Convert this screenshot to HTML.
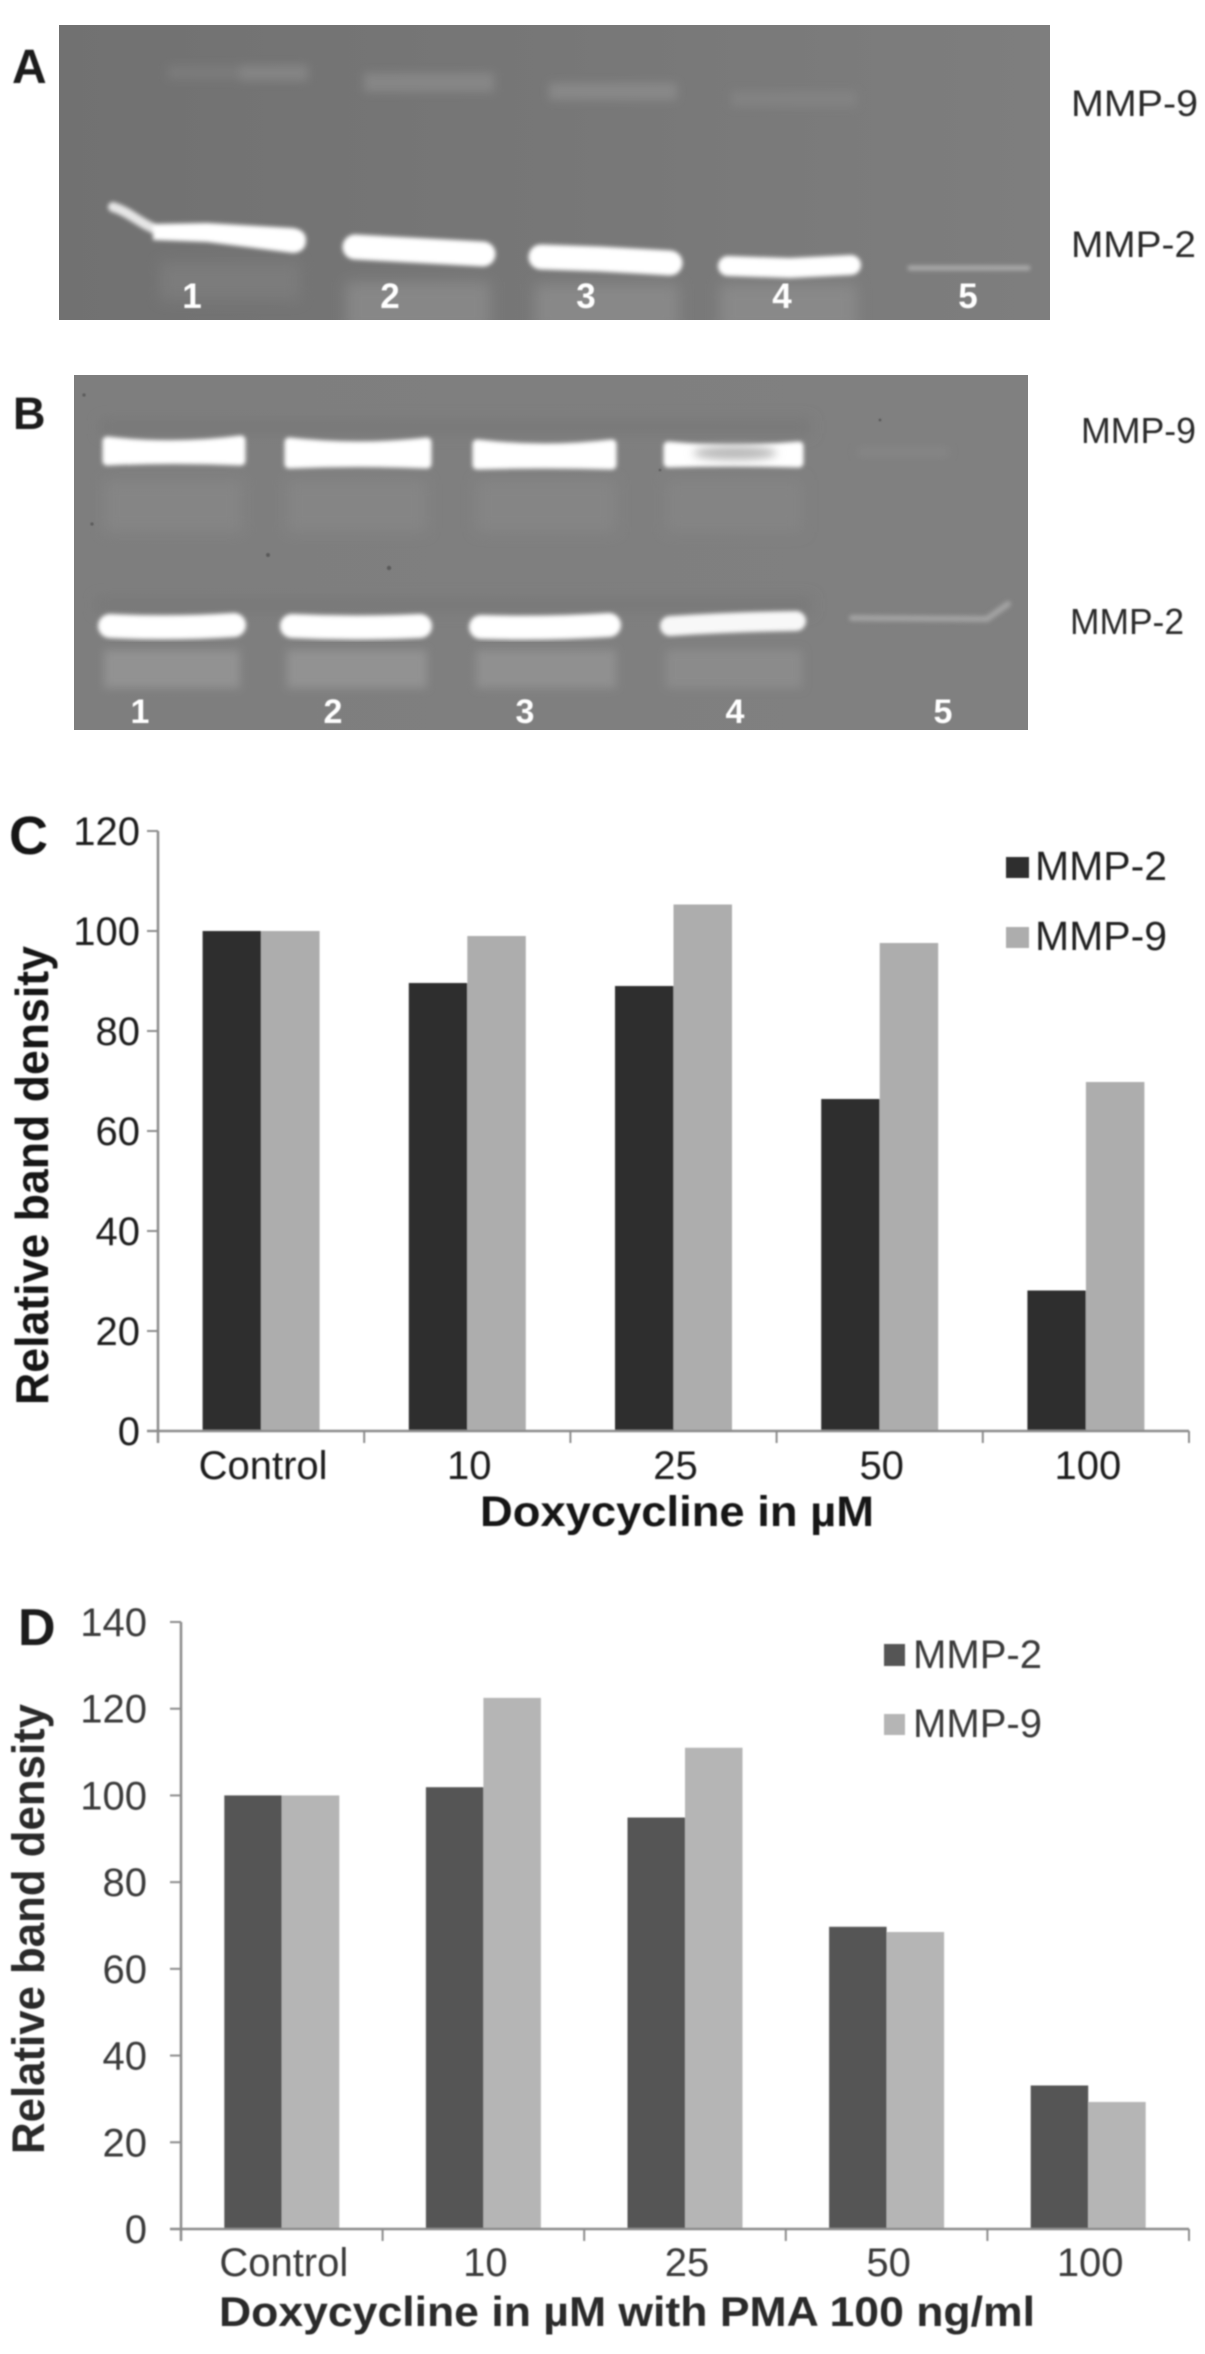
<!DOCTYPE html>
<html lang="en">
<head>
<meta charset="utf-8">
<title>MMP zymography and relative band density</title>
<style>
html,body{margin:0;padding:0;background:#fff;width:1205px;height:2354px;overflow:hidden}
svg{display:block;font-family:"Liberation Sans",sans-serif}
.soft{filter:url(#textSoft)}
</style>
</head>
<body>
<svg id="figure" xmlns="http://www.w3.org/2000/svg" width="1205" height="2354" viewBox="0 0 1205 2354">
<defs>
<filter id="b1" x="-20%" y="-60%" width="140%" height="220%"><feGaussianBlur stdDeviation="2"/></filter>
<filter id="b2" x="-20%" y="-60%" width="140%" height="220%"><feGaussianBlur stdDeviation="4.5"/></filter>
<filter id="b3" x="-20%" y="-60%" width="140%" height="220%"><feGaussianBlur stdDeviation="7"/></filter>
<filter id="textSoft" x="-5%" y="-5%" width="110%" height="110%"><feGaussianBlur stdDeviation="0.7"/></filter>
<clipPath id="clipA"><rect x="59" y="25" width="991" height="295"/></clipPath>
<clipPath id="clipB"><rect x="74" y="375" width="954" height="355"/></clipPath>
<linearGradient id="gelA" x1="0" y1="0" x2="1" y2="0"><stop offset="0" stop-color="#717171"/><stop offset="0.5" stop-color="#777"/><stop offset="1" stop-color="#7e7e7e"/></linearGradient>
<linearGradient id="gelB" x1="0" y1="0" x2="1" y2="0"><stop offset="0" stop-color="#7e7e7e"/><stop offset="1" stop-color="#808080"/></linearGradient>
</defs>

<!-- Gel A -->
<g clip-path="url(#clipA)">
<rect x="59" y="25" width="991" height="295" fill="url(#gelA)"/>
<g filter="url(#b2)">
<rect x="168" y="66" width="75" height="13" fill="#7b7b7b"/>
<rect x="240" y="65" width="68" height="16" fill="#848484"/>
<rect x="364" y="73" width="130" height="19" fill="#868686"/>
<rect x="549" y="83" width="128" height="17" fill="#888888"/>
<rect x="731" y="91" width="126" height="16" fill="#828282"/>
</g>
<g filter="url(#b3)">
<rect x="160" y="262" width="140" height="38" fill="#7b7b7b"/>
<rect x="346" y="282" width="144" height="50" fill="#878787"/>
<rect x="535" y="284" width="144" height="48" fill="#888888"/>
<rect x="720" y="284" width="137" height="48" fill="#898989"/>
</g>
<g filter="url(#b1)">
<path d="M113 207 C130 212 140 224 160 231" fill="none" stroke="#e6e6e6" stroke-width="10" stroke-linecap="round"/>
<path d="M153 224 L207 223 L293 228 Q306 230 306 240 Q306 252 293 253 L207 242 L153 240 Z" fill="#fff"/>
<path d="M355 247 L410 250 L483 254" fill="none" stroke="#fff" stroke-width="25" stroke-linecap="round"/>
<path d="M541 257 L600 259 L670 263" fill="none" stroke="#fff" stroke-width="25" stroke-linecap="round"/>
<path d="M728 266 L790 268 L851 265" fill="none" stroke="#fff" stroke-width="20" stroke-linecap="round"/>
<path d="M910 268 L1028 268" fill="none" stroke="#aaaaaa" stroke-width="5" stroke-linecap="round"/>
</g>
<g class="soft" fill="#fff" font-weight="700" font-size="35" text-anchor="middle">
<text x="192" y="308">1</text>
<text x="390" y="308">2</text>
<text x="586" y="308">3</text>
<text x="782" y="308">4</text>
<text x="968" y="308">5</text>
</g>
</g>
<g class="soft" fill="#1c1c1c">
<text x="12" y="83" font-weight="700" font-size="48">A</text>
<text x="1071" y="116" font-size="37" textLength="127" lengthAdjust="spacingAndGlyphs" fill="#2a2a2a">MMP-9</text>
<text x="1071" y="257" font-size="37" textLength="125" lengthAdjust="spacingAndGlyphs" fill="#2a2a2a">MMP-2</text>
</g>

<!-- Gel B -->
<g clip-path="url(#clipB)">
<rect x="74" y="375" width="954" height="355" fill="url(#gelB)"/>
<g filter="url(#b3)" fill="#787878">
<rect x="100" y="420" width="710" height="14"/>
<rect x="96" y="598" width="715" height="14"/>
</g>
<g filter="url(#b3)">
<rect x="104" y="480" width="138" height="52" fill="#858585"/>
<rect x="287" y="480" width="140" height="52" fill="#858585"/>
<rect x="476" y="480" width="140" height="52" fill="#858585"/>
<rect x="666" y="480" width="136" height="52" fill="#848484"/>
</g>
<g filter="url(#b2)">
<rect x="104" y="650" width="136" height="38" fill="#929292"/>
<rect x="287" y="650" width="140" height="38" fill="#929292"/>
<rect x="476" y="650" width="140" height="38" fill="#909090"/>
<rect x="666" y="650" width="136" height="38" fill="#8b8b8b"/>
</g>
<g filter="url(#b1)" fill="#fff" stroke="#fff" stroke-width="9" stroke-linejoin="round">
<path d="M107 441 Q175 449 241 440 L241 461 Q175 458 107 461 Z"/>
<path d="M289 442 Q358 450 427 442 L427 464 Q358 461 289 464 Z"/>
<path d="M477 444 Q545 452 612 444 L612 465 Q545 463 477 465 Z"/>
<path d="M668 446 Q733 452 799 446 L799 463 Q733 461 668 463 Z"/>
</g>
<ellipse cx="735" cy="453" rx="42" ry="7" fill="#b9b9b9" filter="url(#b2)"/>
<rect x="858" y="448" width="90" height="8" fill="#878787" filter="url(#b2)"/>
<g filter="url(#b1)" fill="none" stroke="#fff" stroke-linecap="round">
<path d="M110 626 Q172 629 234 625" stroke-width="24"/>
<path d="M292 626 Q356 629 420 626" stroke-width="24"/>
<path d="M481 627 Q545 629 609 625" stroke-width="24"/>
<path d="M670 626 Q732 622 796 621" stroke-width="20" stroke="#f8f8f8"/>
<path d="M852 618 L987 619 L1008 604" stroke-width="6" stroke="#a3a3a3"/>
</g>
<g fill="#5a5a5a" filter="url(#textSoft)">
<circle cx="84" cy="395" r="1.6"/>
<circle cx="92" cy="524" r="1.6"/>
<circle cx="268" cy="555" r="2"/>
<circle cx="389" cy="568" r="2.2"/>
<circle cx="660" cy="470" r="1.3"/>
<circle cx="880" cy="420" r="1.4"/>
</g>
<g class="soft" fill="#fff" font-weight="700" font-size="34" text-anchor="middle">
<text x="140" y="723">1</text>
<text x="333" y="723">2</text>
<text x="525" y="723">3</text>
<text x="735" y="723">4</text>
<text x="943" y="723">5</text>
</g>
</g>
<g class="soft" fill="#1c1c1c">
<text x="13" y="429" font-weight="700" font-size="45">B</text>
<text x="1081" y="443" font-size="36" textLength="115" lengthAdjust="spacingAndGlyphs" fill="#2a2a2a">MMP-9</text>
<text x="1070" y="634" font-size="36" textLength="114" lengthAdjust="spacingAndGlyphs" fill="#2a2a2a">MMP-2</text>
</g>

<!-- Chart C static text -->
<g id="chartC" filter="url(#textSoft)"></g>
<g class="soft" fill="#141414">
<text x="9" y="854" font-weight="700" font-size="54">C</text>
<text transform="translate(48,1405) rotate(-90)" font-weight="700" font-size="46" textLength="459" lengthAdjust="spacingAndGlyphs">Relative band density</text>
<text x="480" y="1526" font-weight="700" font-size="43" textLength="394" lengthAdjust="spacingAndGlyphs">Doxycycline in µM</text>
<rect x="1006" y="857" width="23" height="21" fill="#2e2e2e"/>
<text x="1035" y="880" font-size="41" textLength="132" lengthAdjust="spacingAndGlyphs" fill="#222">MMP-2</text>
<rect x="1006" y="927" width="23" height="21" fill="#adadad"/>
<text x="1035" y="950" font-size="41" textLength="132" lengthAdjust="spacingAndGlyphs" fill="#222">MMP-9</text>
</g>

<!-- Chart D static text -->
<g id="chartD" filter="url(#textSoft)"></g>
<g class="soft" fill="#2a2a2a">
<text x="18" y="1645" font-weight="700" font-size="52" fill="#1c1c1c">D</text>
<text transform="translate(44,2154) rotate(-90)" font-weight="700" font-size="45" textLength="450" lengthAdjust="spacingAndGlyphs">Relative band density</text>
<text x="219" y="2326" font-weight="700" font-size="42" textLength="816" lengthAdjust="spacingAndGlyphs">Doxycycline in µM with PMA 100 ng/ml</text>
<rect x="884" y="1644" width="21" height="22" fill="#555"/>
<text x="913" y="1668" font-size="40" textLength="129" lengthAdjust="spacingAndGlyphs" fill="#3a3a3a">MMP-2</text>
<rect x="884" y="1714" width="21" height="21" fill="#b5b5b5"/>
<text x="913" y="1737" font-size="40" textLength="129" lengthAdjust="spacingAndGlyphs" fill="#3a3a3a">MMP-9</text>
</g>
</svg>

<script>
// Chart C data
var categoriesC = ["Control", "10", "25", "50", "100"];
var mmp2C = [100, 89.6, 89, 66.4, 28.1];
var mmp9C = [100, 99, 105.3, 97.6, 69.8];
var yTicksC = [0, 20, 40, 60, 80, 100, 120];

// Chart D data
var categoriesD = ["Control", "10", "25", "50", "100"];
var mmp2D = [100, 101.9, 94.9, 69.7, 33.1];
var mmp9D = [100, 122.5, 111, 68.5, 29.3];
var yTicksD = [0, 20, 40, 60, 80, 100, 120, 140];

var NS = "http://www.w3.org/2000/svg";

function make(parent, tag, attrs) {
  var el = document.createElementNS(NS, tag);
  for (var k in attrs) { el.setAttribute(k, attrs[k]); }
  parent.appendChild(el);
  return el;
}

function drawChart(groupId, categories, series2, series9, yTicks, box, style) {
  var root = document.getElementById(groupId);
  var yMax = yTicks[yTicks.length - 1];
  var slot = (box.right - box.left) / categories.length;
  function yScale(v) { return box.bottom - (v / yMax) * (box.bottom - box.top); }
  function xScale(i) { return box.left + slot * (i + 0.5); }

  categories.forEach(function (cat, i) {
    var bar2 = make(root, "rect", {
      x: xScale(i) - box.barWidth, y: yScale(series2[i]),
      width: box.barWidth, height: box.bottom - yScale(series2[i]), fill: style.dark
    });
    
    
    var bar9 = make(root, "rect", {
      x: xScale(i), y: yScale(series9[i]),
      width: box.barWidth, height: box.bottom - yScale(series9[i]), fill: style.light
    });
    
    
  });

  var yAxis = make(root, "line", { x1: box.left, x2: box.left, y1: box.top, y2: box.bottom + 12, stroke: "#8c8c8c", "stroke-width": 2.5 });
  
  
  var xAxis = make(root, "line", { x1: box.left - 11, x2: box.right, y1: box.bottom, y2: box.bottom, stroke: "#8c8c8c", "stroke-width": 2.5 });
  
  

  yTicks.forEach(function (t) {
    var y = yScale(t);
    var tick = make(root, "line", { x1: box.left - 11, x2: box.left, y1: y, y2: y, stroke: "#8c8c8c", "stroke-width": 2 });
    
    
    var label = make(root, "text", {
      x: box.labelRight, y: y + 14, "text-anchor": "end", "font-size": 40,
      fill: style.text
    });
    label.textContent = t;
    
    
  });

  for (var i = 0; i <= categories.length; i++) {
    var tx = box.left + slot * i;
    var xt = make(root, "line", { x1: tx, x2: tx, y1: box.bottom, y2: box.bottom + 12, stroke: "#8c8c8c", "stroke-width": 2 });
    
    
  }

  categories.forEach(function (cat, i) {
    var label = make(root, "text", {
      x: xScale(i) + box.labelShift, y: box.labelBaseline, "text-anchor": "middle", "font-size": 40,
      fill: style.text
    });
    label.textContent = cat;
    
    
  });
}

drawChart("chartC", categoriesC, mmp2C, mmp9C, yTicksC,
  { left: 158, right: 1189, top: 831, bottom: 1431, barWidth: 58.5, labelRight: 140, labelBaseline: 1479, labelShift: 2 },
  { dark: "#2e2e2e", light: "#adadad", text: "#1c1c1c" });

drawChart("chartD", categoriesD, mmp2D, mmp9D, yTicksD,
  { left: 181, right: 1189, top: 1622, bottom: 2229, barWidth: 57.5, labelRight: 147, labelBaseline: 2276, labelShift: 2 },
  { dark: "#555555", light: "#b5b5b5", text: "#3a3a3a" });
</script>
</body>
</html>
